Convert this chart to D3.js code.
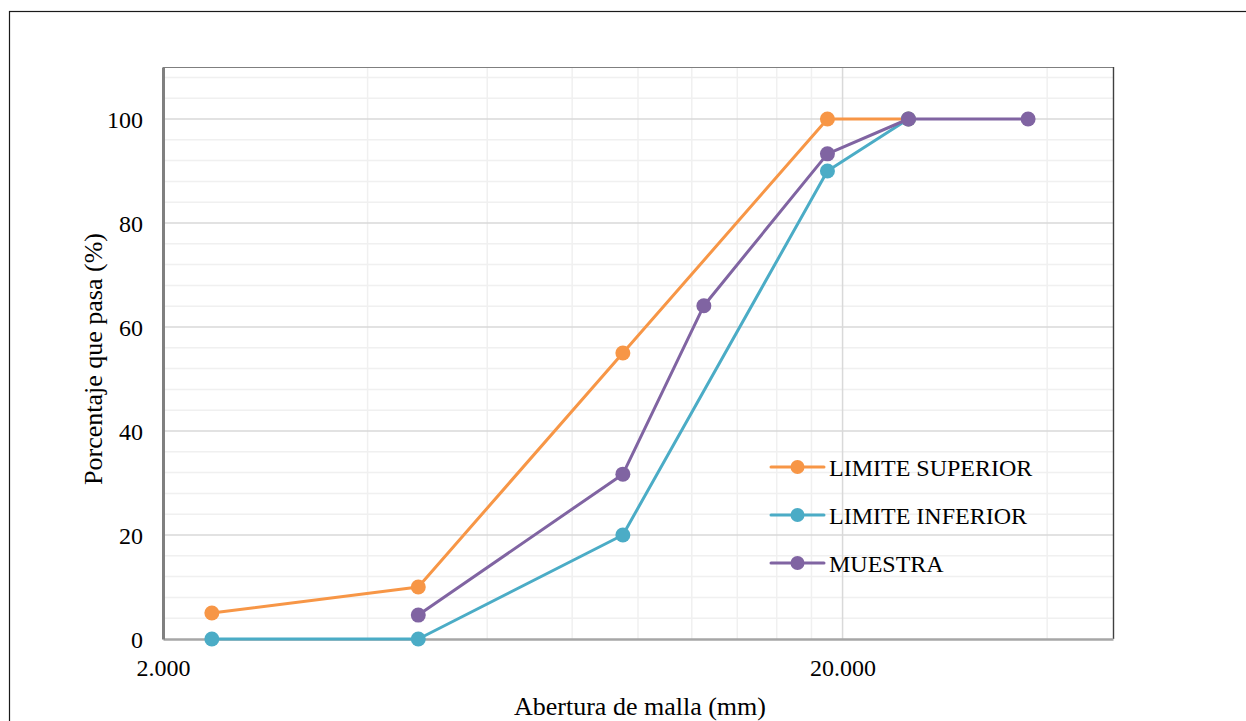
<!DOCTYPE html>
<html>
<head>
<meta charset="utf-8">
<script src="https://cdn.jsdelivr.net/npm/d3@7"></script>
</head>
<body style="margin:0;padding:0;background:#fff">
<svg id="chart" width="1246" height="721" style="display:block"></svg>
<script>
// Sieve openings (mm) and percent passing for each curve
const aberturaSuperior = [2.36, 4.75, 9.5, 19, 25];
const limiteSuperior   = [5, 10, 55, 100, 100];
const aberturaInferior = [2.36, 4.75, 9.5, 19, 25];
const limiteInferior   = [0, 0, 20, 90, 100];
const aberturaMuestra  = [4.75, 9.5, 12.5, 19, 25, 37.5];
const muestra          = [4.6, 31.7, 64.1, 93.3, 100, 100];

const seriesNames = ["LIMITE SUPERIOR", "LIMITE INFERIOR", "MUESTRA"];
const seriesColors = ["#f79646", "#4bacc6", "#8064a2"];
const xTickValues = [2, 20];
const yTickValues = [0, 20, 40, 60, 80, 100];

const series = [
  { name: seriesNames[0], color: seriesColors[0], pts: aberturaSuperior.map((x, i) => [x, limiteSuperior[i]]) },
  { name: seriesNames[1], color: seriesColors[1], pts: aberturaInferior.map((x, i) => [x, limiteInferior[i]]) },
  { name: seriesNames[2], color: seriesColors[2], pts: aberturaMuestra.map((x, i) => [x, muestra[i]]) }
];

const FONT = '"Times New Roman", "Liberation Serif", Tinos, serif';
const svg = d3.select("#chart");
const W = 1246, H = 721;
const plot = { left: 163, top: 67, right: 1113, bottom: 639 };

// Outer chart frame
svg.append("rect")
  .attr("x", 9.5).attr("y", 11.5)
  .attr("width", W + 20).attr("height", H + 20)
  .attr("fill", "#fff").attr("stroke", "#1a1a1a").attr("stroke-width", 1.2);

const x = d3.scaleLog().domain([2, 50]).range([plot.left, plot.right]);
const y = d3.scaleLinear().domain([0, 110]).range([plot.bottom, plot.top]);

// Minor gridlines
const xMinor = d3.range(4, 20, 2).concat([40]);
const yMinor = d3.range(4, 110, 4).filter(v => v % 20 !== 0);
const grid = svg.append("g");
grid.selectAll(".xm").data(xMinor).join("line")
  .attr("x1", d => x(d)).attr("x2", d => x(d))
  .attr("y1", plot.top).attr("y2", plot.bottom)
  .attr("stroke", "#f0f0f0").attr("stroke-width", 1.5);
grid.selectAll(".ym").data(yMinor).join("line")
  .attr("x1", plot.left).attr("x2", plot.right)
  .attr("y1", d => y(d)).attr("y2", d => y(d))
  .attr("stroke", "#f0f0f0").attr("stroke-width", 1.5);
// Major gridlines
grid.selectAll(".xM").data([20]).join("line")
  .attr("x1", d => x(d)).attr("x2", d => x(d))
  .attr("y1", plot.top).attr("y2", plot.bottom)
  .attr("stroke", "#d9d9d9").attr("stroke-width", 1.5);
grid.selectAll(".yM").data(yTickValues.filter(v => v > 0)).join("line")
  .attr("x1", plot.left).attr("x2", plot.right)
  .attr("y1", d => y(d)).attr("y2", d => y(d))
  .attr("stroke", "#d9d9d9").attr("stroke-width", 1.5);

// Plot area border (top and right)
svg.append("line").attr("x1", plot.left).attr("x2", plot.right)
  .attr("y1", plot.top + 0.5).attr("y2", plot.top + 0.5)
  .attr("stroke", "#7f7f7f").attr("stroke-width", 1.2);
svg.append("line").attr("x1", plot.right + 0.5).attr("x2", plot.right + 0.5)
  .attr("y1", plot.top).attr("y2", plot.bottom)
  .attr("stroke", "#404040").attr("stroke-width", 1.4);

// Axes
const xAxis = d3.axisBottom(x).tickValues(xTickValues).tickSize(0).tickPadding(0)
  .tickFormat(d3.format(".3f"));
const gx = svg.append("g").attr("transform", `translate(0,${plot.bottom})`).call(xAxis);
gx.select(".domain").attr("stroke", "#a6a6a6").attr("stroke-width", 2.5);
gx.selectAll("text").attr("dy", null).attr("y", 37)
  .style("font-family", FONT).style("font-size", "24px").attr("fill", "#000");

const yAxis = d3.axisLeft(y).tickValues(yTickValues).tickSize(0).tickPadding(20);
const gy = svg.append("g").attr("transform", `translate(${plot.left},0)`).call(yAxis);
gy.select(".domain").attr("stroke", "#808080").attr("stroke-width", 3);
gy.selectAll("text").attr("dy", "0.34em")
  .style("font-family", FONT).style("font-size", "24px").attr("fill", "#000");

// Axis titles
svg.append("text").attr("x", 640).attr("y", 715)
  .attr("text-anchor", "middle")
  .style("font-family", FONT).style("font-size", "26px")
  .text("Abertura de malla (mm)");
svg.append("text")
  .attr("transform", "translate(102,359) rotate(-90)")
  .attr("text-anchor", "middle")
  .style("font-family", FONT).style("font-size", "26px")
  .text("Porcentaje que pasa (%)");

// Curves
const line = d3.line().x(d => x(d[0])).y(d => y(d[1]));
const curves = svg.append("g");
series.forEach(s => {
  const g = curves.append("g");
  g.append("path").datum(s.pts).attr("d", line)
    .attr("fill", "none").attr("stroke", s.color).attr("stroke-width", 3)
    .attr("stroke-linejoin", "round").attr("stroke-linecap", "round");
  g.selectAll("circle").data(s.pts).join("circle")
    .attr("cx", d => x(d[0])).attr("cy", d => y(d[1])).attr("r", 7.5)
    .attr("fill", s.color);
});

// Legend
const legend = svg.append("g").attr("transform", "translate(771,467)");
series.forEach((s, i) => {
  const row = legend.append("g").attr("transform", `translate(0,${i * 48})`);
  row.append("line").attr("x1", 0).attr("x2", 53).attr("y1", 0).attr("y2", 0)
    .attr("stroke", s.color).attr("stroke-width", 3).attr("stroke-linecap", "round");
  row.append("circle").attr("cx", 26.5).attr("cy", 0).attr("r", 7).attr("fill", s.color);
  row.append("text").attr("x", 58).attr("y", 9)
    .style("font-family", FONT).style("font-size", "24px").text(s.name);
});
</script>
</body>
</html>
